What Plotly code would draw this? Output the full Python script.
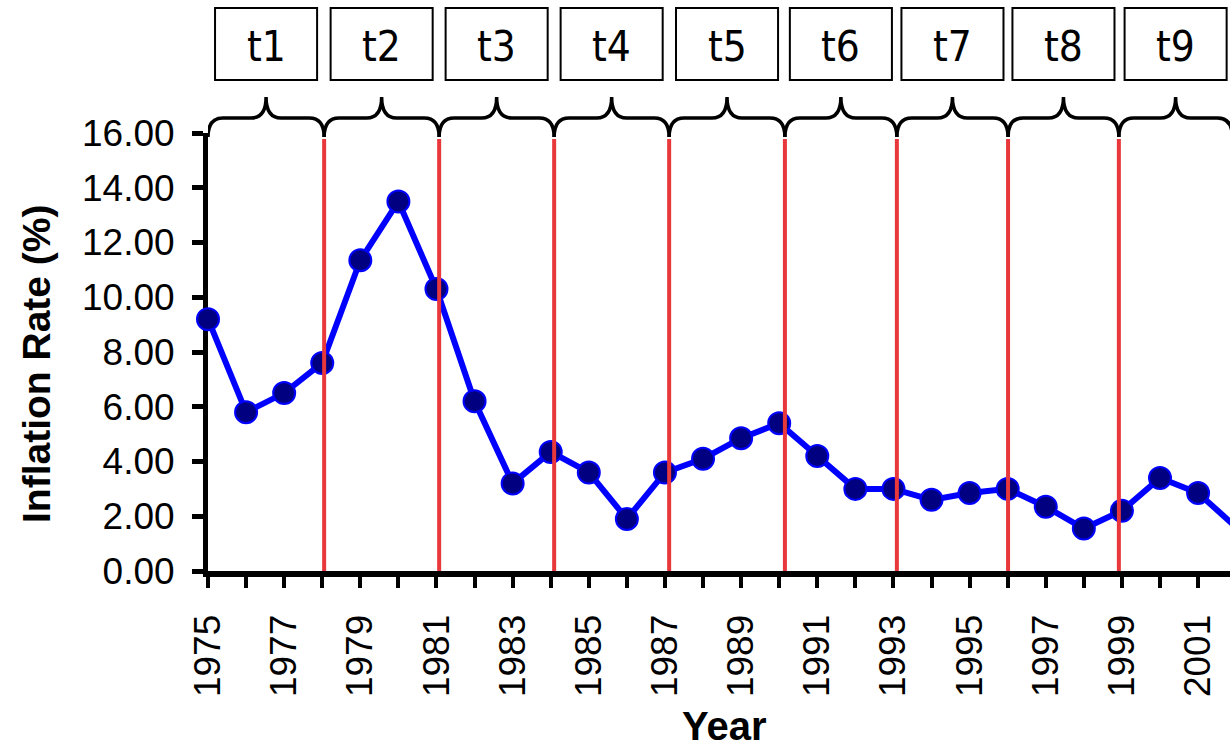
import plotly.graph_objects as go

# ---- data ----
years = list(range(1975, 2003))
inflation = [9.2, 5.8, 6.5, 7.6, 11.35, 13.5, 10.3, 6.2, 3.2, 4.35, 3.6, 1.9,
             3.6, 4.1, 4.85, 5.4, 4.2, 3.0, 3.0, 2.6, 2.85, 3.0, 2.35, 1.55,
             2.2, 3.4, 2.85, 1.6]
period_labels = ["t1", "t2", "t3", "t4", "t5", "t6", "t7", "t8", "t9"]
period_bounds = [1975.0, 1978.05, 1981.07, 1984.09, 1987.11, 1990.15,
                 1993.09, 1996.01, 1998.92, 2001.9]
y_ticks = [0, 2, 4, 6, 8, 10, 12, 14, 16]

# ---- page geometry (pixels) ----
FIG_W, FIG_H = 1230, 750
PLOT_LEFT, PLOT_TOP, PLOT_BOTTOM = 208, 133, 571
PLOT_H = PLOT_BOTTOM - PLOT_TOP
PLOT_W = FIG_W - PLOT_LEFT
PX_PER_YEAR = 38.08


def paper_y(py):
    return (PLOT_BOTTOM - py) / PLOT_H


def paper_x(px):
    return (px - PLOT_LEFT) / PLOT_W


fig = go.Figure()
fig.add_trace(go.Scatter(
    x=years, y=inflation, mode="lines+markers",
    line=dict(color="#0000FF", width=6),
    marker=dict(size=22, color="#000080", line=dict(color="#0000FF", width=2)),
    cliponaxis=False, showlegend=False, hoverinfo="skip",
))

shapes = []
annotations = []

# red separators between periods
for b in period_bounds[1:-1]:
    shapes.append(dict(type="line", xref="x", yref="y", x0=b, x1=b, y0=0,
                       y1=(PLOT_BOTTOM - 139) / PLOT_H * 16,
                       line=dict(color="#E8383B", width=4), layer="above"))

# braces + boxes + labels
y_end, y_mid, y_tip = paper_y(137), paper_y(118), paper_y(97)
dx = 15 / PX_PER_YEAR
box_half = 1.34
for lab, a, b in zip(period_labels, period_bounds[:-1], period_bounds[1:]):
    m = (a + b) / 2
    path = (f"M {a},{y_end} Q {a},{y_mid} {a+dx},{y_mid} L {m-dx},{y_mid} "
            f"Q {m},{y_mid} {m},{y_tip} Q {m},{y_mid} {m+dx},{y_mid} "
            f"L {b-dx},{y_mid} Q {b},{y_mid} {b},{y_end}")
    shapes.append(dict(type="path", xref="x", yref="paper", path=path,
                       line=dict(color="black", width=3.5), layer="above"))
    shapes.append(dict(type="rect", xref="x", yref="paper",
                       x0=m - box_half, x1=m + box_half,
                       y0=paper_y(80), y1=paper_y(8),
                       line=dict(color="black", width=2), fillcolor="white",
                       layer="above"))
    annotations.append(dict(xref="x", yref="paper", x=m, y=paper_y(46),
                            text=lab, showarrow=False, xanchor="center",
                            yanchor="middle",
                            font=dict(family="DejaVu Sans Condensed, DejaVu Sans",
                                      size=42, color="black")))

# axis titles
annotations.append(dict(xref="paper", yref="paper", x=paper_x(36), y=paper_y(364),
                        text="<b>Inflation Rate (%)</b>", textangle=-90,
                        showarrow=False, xanchor="center", yanchor="middle",
                        font=dict(family="Liberation Sans, Arial", size=39,
                                  color="black")))
annotations.append(dict(xref="paper", yref="paper", x=paper_x(724), y=paper_y(726),
                        text="<b>Year</b>", showarrow=False,
                        xanchor="center", yanchor="middle",
                        font=dict(family="Liberation Sans, Arial", size=40,
                                  color="black")))

fig.update_layout(
    width=FIG_W, height=FIG_H,
    margin=dict(l=PLOT_LEFT, r=0, t=PLOT_TOP, b=FIG_H - PLOT_BOTTOM, pad=0),
    paper_bgcolor="white", plot_bgcolor="white",
    shapes=shapes, annotations=annotations,
    font=dict(family="Liberation Sans, Arial", color="black"),
)

fig.update_xaxes(
    range=[1975, 1975 + PLOT_W / PX_PER_YEAR],
    tickmode="linear", tick0=1975, dtick=2,
    ticks="outside", ticklen=11, tickwidth=4, tickcolor="black",
    minor=dict(dtick=1, tick0=1975, ticks="outside", ticklen=11,
               tickwidth=4, tickcolor="black"),
    showline=True, linecolor="black", linewidth=6,
    showgrid=False, zeroline=False, tickangle=-90,
    tickfont=dict(family="Liberation Sans, Arial", size=37, color="black"),
    ticklabelstandoff=12,
    automargin=False, layer="below traces",
)
fig.update_yaxes(
    range=[0, 16], tickmode="array", tickvals=y_ticks, tickformat=".2f",
    ticks="outside", ticklen=11, tickwidth=5, tickcolor="black",
    showline=True, linecolor="black", linewidth=5,
    showgrid=False, zeroline=False,
    tickfont=dict(family="Liberation Sans, Arial", size=37, color="black"),
    ticklabelstandoff=10,
    automargin=False, layer="below traces",
)

fig.write_html(
    "out.html",
    config={"displayModeBar": False},
    post_script="document.body.style.margin='0';"
                "document.body.style.overflow='hidden';",
)
